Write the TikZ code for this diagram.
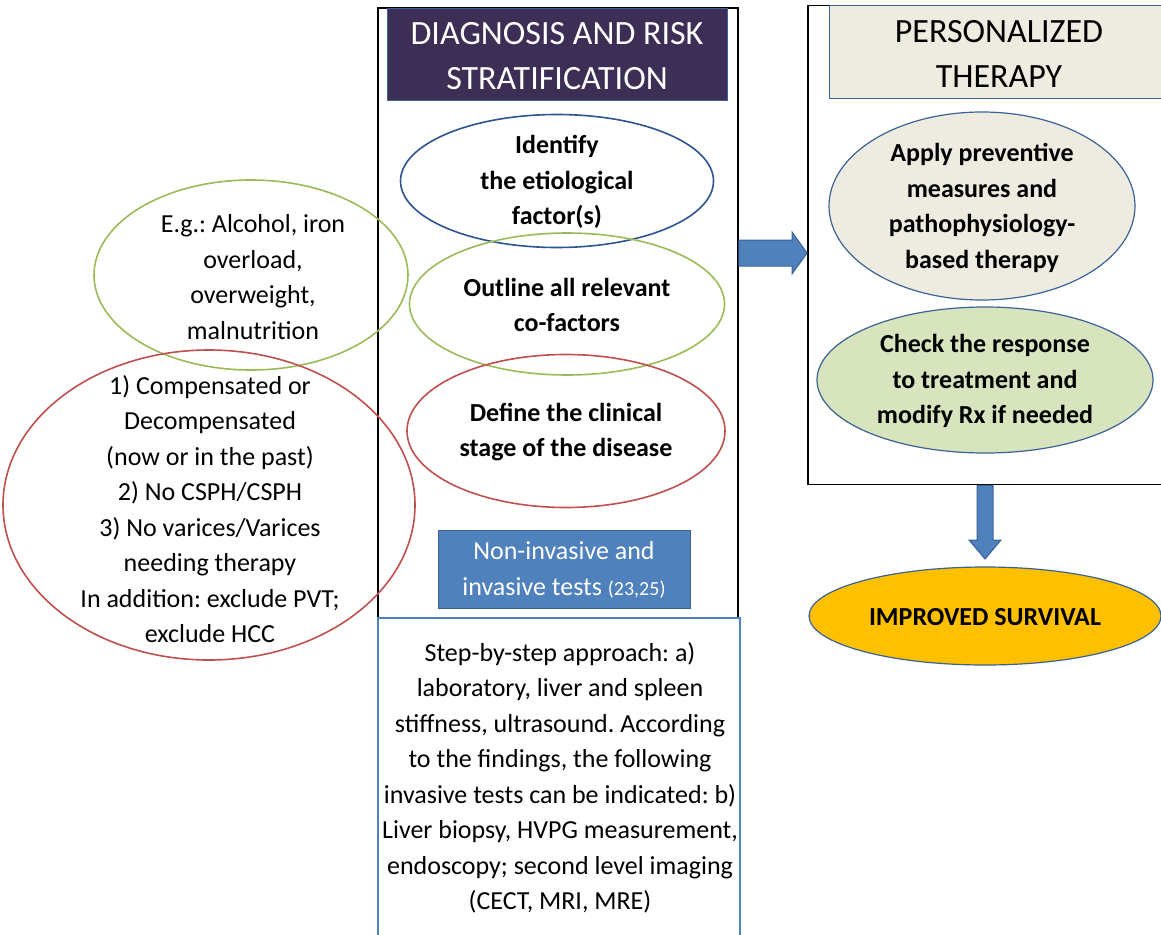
\documentclass[tikz,border=0pt]{standalone}
\usepackage{fontspec}
\setmainfont{Carlito}
\usetikzlibrary{shapes.geometric}
\frenchspacing
\definecolor{hdrpurple}{HTML}{3D2E55}
\definecolor{ovblue}{HTML}{2E5490}
\definecolor{ovgreen}{HTML}{9BBB59}
\definecolor{ovred}{HTML}{C0504D}
\definecolor{accblue}{HTML}{4F81BD}
\definecolor{edgeblue}{HTML}{3A6296}
\definecolor{beige}{HTML}{EEECE1}
\definecolor{lgreen}{HTML}{D7E4BD}
\definecolor{gold}{HTML}{FFC000}
\begin{document}
\begin{tikzpicture}[x=1pt,y=-1pt,
  body/.style={align=center,font=\fontsize{26}{35.5}\selectfont,inner sep=0pt},
  bodyb/.style={align=center,font=\fontsize{26}{35.5}\selectfont\bfseries,inner sep=0pt},
  head/.style={align=center,font=\fontsize{34}{45}\selectfont,inner sep=0pt},
  oval/.style={ellipse,draw,line width=1.6pt,inner sep=0pt},
  frame/.style={draw,line width=1.8pt,inner sep=0pt},
  blockarrow/.style={fill=accblue,draw=edgeblue,line width=1pt}
]
\useasboundingbox (0,0) rectangle (1161,934);
\clip (0,0) rectangle (1161,934);
\fill[white] (0,0) rectangle (1161,934);

% middle column
\node[frame,minimum width=360pt,minimum height=610pt] (diag) at (558,313) {};
\node[fill=hdrpurple,draw=edgeblue,line width=0.8pt,minimum width=340pt,minimum height=92pt,inner sep=0pt] (diaghead) at (557,54) {};
\node[head,text=white] (diagheadT) at (557,56) {DIAGNOSIS AND RISK\\STRATIFICATION};

\node[oval,draw=ovblue,minimum width=313pt,minimum height=133pt] (ident) at (557,181) {};
\node[bodyb] (identT) at (557,182) {Identify\\the etiological\\factor(s)};
\node[oval,draw=ovgreen,minimum width=315pt,minimum height=142pt] (cofac) at (567,304) {};
\node[bodyb] (cofacT) at (567,305) {Outline all relevant\\co-factors};
\node[oval,draw=ovred,minimum width=318pt,minimum height=153pt] (stage) at (566,431) {};
\node[bodyb] (stageT) at (566,432) {Define the clinical\\stage of the disease};

\node[fill=accblue,draw=edgeblue,line width=1pt,minimum width=252pt,minimum height=78pt,inner sep=0pt] (tests) at (564,569) {};
\node[body,text=white] (testsT) at (564,570) {Non-invasive and\\invasive tests {\fontsize{20}{24}\selectfont(23,25)}};

\node[draw=accblue,line width=1.6pt,minimum width=362pt,minimum height=324pt,inner sep=0pt] (steps) at (559,780) {};
\node[body] (stepsT) at (560,778) {Step-by-step approach: a)\\laboratory, liver and spleen\\stiffness, ultrasound. According\\to the findings, the following\\invasive tests can be indicated: b)\\Liver biopsy, HVPG measurement,\\endoscopy; second level imaging\\(CECT, MRI, MRE)};

% left column
\node[oval,draw=ovgreen,minimum width=314pt,minimum height=190pt] (eg) at (251,275) {};
\node[body] (egT) at (253,277) {E.g.: Alcohol, iron\\overload,\\overweight,\\malnutrition};
\node[oval,draw=ovred,minimum width=412pt,minimum height=310pt] (comp) at (209,505) {};
\node[body] (compT) at (210,509) {1) Compensated or\\Decompensated\\(now or in the past)\\2) No CSPH/CSPH\\3) No varices/Varices\\needing therapy\\In addition: exclude PVT;\\exclude HCC};

% right column
\node[frame,minimum width=367pt,minimum height=479pt] (pers) at (991.5,245) {};
\node[fill=beige,draw=edgeblue,line width=1pt,minimum width=346pt,minimum height=92pt,inner sep=0pt] (pershead) at (1002,52) {};
\node[head] (persheadT) at (999,54) {PERSONALIZED\\THERAPY};

\node[oval,fill=beige,draw=edgeblue,line width=1.2pt,minimum width=306pt,minimum height=188pt] (apply) at (982,206) {};
\node[bodyb] (applyT) at (982,208) {Apply preventive\\measures and\\pathophysiology-\\based therapy};
\node[oval,fill=lgreen,draw=edgeblue,line width=1.2pt,minimum width=336pt,minimum height=146pt] (check) at (985,380) {};
\node[bodyb] (checkT) at (985,381) {Check the response\\to treatment and\\modify Rx if needed};

\node[oval,fill=gold,draw=edgeblue,line width=1.2pt,minimum width=352pt,minimum height=98pt] (surv) at (985,616) {};
\node[bodyb] (survT) at (985,617) {IMPROVED SURVIVAL};

% block arrows
\draw[blockarrow] (diag.east |- 0,240) -- (792,240) -- (792,232) -- (pers.west |- 0,253) -- (792,274) -- (792,266) -- (diag.east |- 0,266) -- cycle;
\draw[blockarrow] (977,0 |- pers.south) -- (993,0 |- pers.south) -- (993,540) -- (1001,540) -- (985,559) -- (969,540) -- (977,540) -- cycle;
\end{tikzpicture}
\end{document}
